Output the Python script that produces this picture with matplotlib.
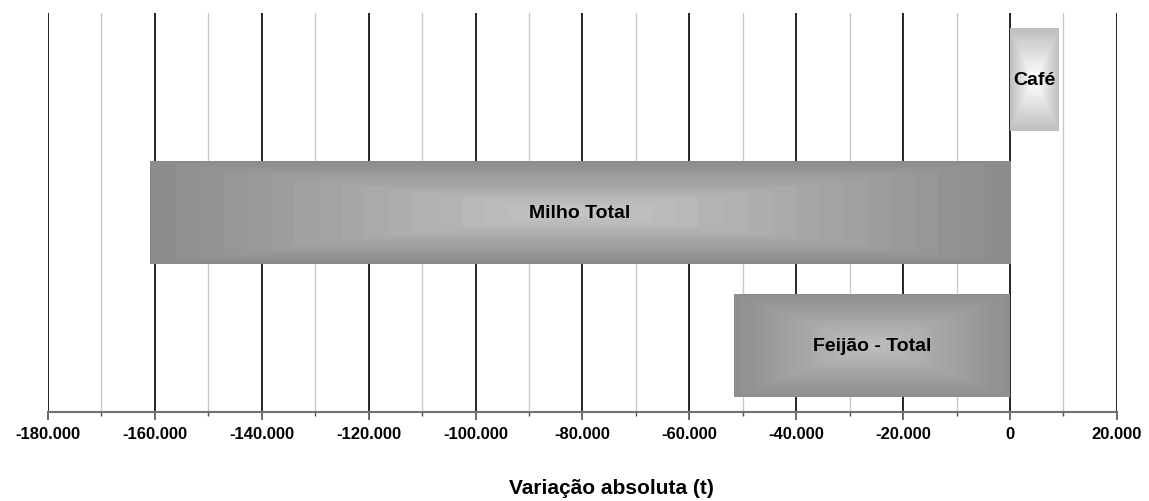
import numpy as np
import matplotlib
matplotlib.use('Agg')
import matplotlib.pyplot as plt
from matplotlib.ticker import MultipleLocator, FuncFormatter

plt.rcParams['font.family'] = ['Liberation Sans', 'DejaVu Sans']

# data (bottom to top)
categories = ['Feijão - Total', 'Milho Total', 'Café']
values = [-51600, -161000, 9100]
# gradient colours: edge grey, centre grey
edge_grey = [0.55, 0.54, 0.74]
centre_grey = [0.74, 0.77, 1.0]

x_min, x_max = -180000, 20000
bar_h = 0.77


def grad_img(edge, centre, nx=400, ny=100, steps=18):
    u = np.linspace(-1, 1, nx)
    v = np.linspace(-1, 1, ny)
    U, V = np.meshgrid(u, v)
    d = np.maximum(np.abs(U), np.abs(V))
    d = np.floor(d * steps) / steps
    return centre + (edge - centre) * d


fig = plt.figure(figsize=(11.49, 5.02), dpi=100)
ax = fig.add_axes([0.0418, 0.1773, 0.9302, 0.7947])

for i, (cat, val) in enumerate(zip(categories, values)):
    left, right = min(0, val), max(0, val)
    img = grad_img(edge_grey[i], centre_grey[i])
    ax.imshow(img, cmap='gray', vmin=0, vmax=1, extent=(left, right, i - bar_h / 2, i + bar_h / 2),
              aspect='auto', interpolation='nearest', zorder=3)
    ax.text((left + right) / 2, i, cat, ha='center', va='center', fontsize=14,
            fontweight='bold', zorder=4)

ax.set_xlim(x_min, x_max)
ax.set_ylim(-0.5, 2.5)

ax.xaxis.set_major_locator(MultipleLocator(20000))
ax.xaxis.set_minor_locator(MultipleLocator(10000))
ax.xaxis.set_major_formatter(FuncFormatter(lambda v, p: '{:,.0f}'.format(v).replace(',', '.')))
ax.grid(which='major', axis='x', color='black', lw=1.2, zorder=1)
ax.grid(which='minor', axis='x', color='#c8c8c8', lw=1.0, zorder=1)
ax.set_axisbelow(True)

ax.set_yticks([])
for s in ['top', 'right', 'left']:
    ax.spines[s].set_visible(False)
ax.spines['bottom'].set_color('#707070')
ax.spines['bottom'].set_linewidth(1.5)
ax.spines['bottom'].set_zorder(5)
ax.tick_params(axis='x', which='major', length=6, width=1.2, color='#505050', pad=4)
ax.tick_params(axis='x', which='minor', length=3, width=1.0, color='#505050')
for lab in ax.get_xticklabels():
    lab.set_fontsize(12)
    lab.set_fontweight('bold')

fig.text(0.5 * (502 + 721) / 1149, (502 - 489) / 502, 'Variação absoluta (t)', ha='center',
         va='center', fontsize=15, fontweight='bold')

fig.savefig('out.png', dpi=100)
